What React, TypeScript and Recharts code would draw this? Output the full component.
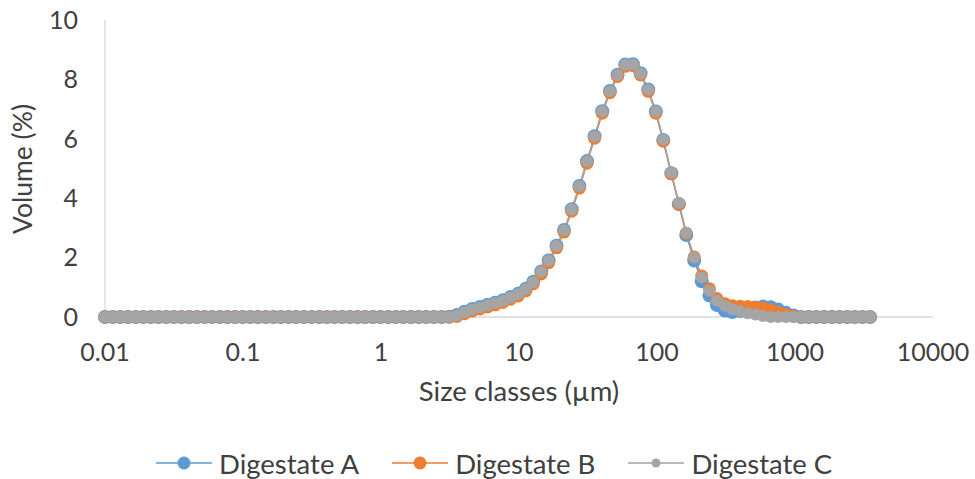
import { LineChart, Line, XAxis, YAxis } from "recharts";

// size classes (µm), laser diffraction bins
const sizes = [
  0.01, 0.0114, 0.0129, 0.0147, 0.0167, 0.0189, 0.0215, 0.0244, 0.0278, 0.0315,
  0.0358, 0.0407, 0.0463, 0.0526, 0.0597, 0.0679, 0.0771, 0.0876, 0.0995, 0.113,
  0.128, 0.146, 0.166, 0.188, 0.214, 0.243, 0.276, 0.314, 0.357, 0.405,
  0.46, 0.523, 0.594, 0.675, 0.767, 0.872, 0.991, 1.13, 1.28, 1.45,
  1.65, 1.88, 2.13, 2.42, 2.75, 3.12, 3.55, 4.03, 4.58, 5.21,
  5.92, 6.72, 7.64, 8.68, 9.86, 11.2, 12.7, 14.5, 16.4, 18.7,
  21.2, 24.1, 27.4, 31.1, 35.3, 40.1, 45.6, 51.8, 58.9, 66.9,
  76, 86.4, 98.1, 111, 127, 144, 163, 186, 211, 240,
  272, 310, 352, 400, 454, 516, 586, 666, 756, 859,
  976, 1110, 1260, 1430, 1630, 1850, 2100, 2390, 2710, 3080,
  3500,
];

const digestateA = [
  0, 0, 0, 0, 0, 0, 0, 0, 0, 0,
  0, 0, 0, 0, 0, 0, 0, 0, 0, 0,
  0, 0, 0, 0, 0, 0, 0, 0, 0, 0,
  0, 0, 0, 0, 0, 0, 0, 0, 0, 0,
  0, 0, 0, 0, 0, 0.01, 0.07, 0.18, 0.27, 0.34,
  0.41, 0.48, 0.56, 0.67, 0.78, 0.95, 1.19, 1.53, 1.9, 2.4,
  2.93, 3.63, 4.41, 5.25, 6.09, 6.93, 7.61, 8.16, 8.5, 8.51,
  8.21, 7.66, 6.92, 5.96, 4.84, 3.8, 2.76, 1.9, 1.2, 0.72,
  0.4, 0.22, 0.17, 0.2, 0.26, 0.32, 0.35, 0.33, 0.25, 0.14,
  0.05, 0, 0, 0, 0, 0, 0, 0, 0, 0,
  0,
];

const digestateB = [
  0, 0, 0, 0, 0, 0, 0, 0, 0, 0,
  0, 0, 0, 0, 0, 0, 0, 0, 0, 0,
  0, 0, 0, 0, 0, 0, 0, 0, 0, 0,
  0, 0, 0, 0, 0, 0, 0, 0, 0, 0,
  0, 0, 0, 0, 0, 0, 0.02, 0.11, 0.2, 0.27,
  0.34, 0.41, 0.49, 0.6, 0.71, 0.88, 1.12, 1.45, 1.83, 2.33,
  2.86, 3.56, 4.34, 5.18, 6.02, 6.86, 7.55, 8.1, 8.44, 8.46,
  8.15, 7.6, 6.86, 5.92, 4.82, 3.8, 2.82, 2.02, 1.38, 0.95,
  0.62, 0.45, 0.38, 0.36, 0.35, 0.33, 0.3, 0.24, 0.16, 0.08,
  0.02, 0, 0, 0, 0, 0, 0, 0, 0, 0,
  0,
];

const digestateC = [
  0, 0, 0, 0, 0, 0, 0, 0, 0, 0,
  0, 0, 0, 0, 0, 0, 0, 0, 0, 0,
  0, 0, 0, 0, 0, 0, 0, 0, 0, 0,
  0, 0, 0, 0, 0, 0, 0, 0, 0, 0,
  0, 0, 0, 0, 0, 0, 0.05, 0.16, 0.25, 0.32,
  0.4, 0.47, 0.55, 0.66, 0.77, 0.94, 1.18, 1.52, 1.89, 2.39,
  2.92, 3.62, 4.4, 5.24, 6.08, 6.92, 7.6, 8.15, 8.49, 8.5,
  8.2, 7.65, 6.92, 5.97, 4.86, 3.85, 2.84, 2.0, 1.33, 0.88,
  0.55, 0.38, 0.26, 0.19, 0.13, 0.08, 0.03, 0, 0, 0,
  0, 0, 0, 0, 0, 0, 0, 0, 0, 0,
  0,
];

const xTicks = [0.01, 0.1, 1, 10, 100, 1000, 10000];
const yTicks = [0, 2, 4, 6, 8, 10];

const series = [
  { key: "a", name: "Digestate A", color: "#5B9BD5", r: 7, legendR: 6.5 },
  { key: "b", name: "Digestate B", color: "#ED7D31", r: 6.5, legendR: 6.5 },
  { key: "c", name: "Digestate C", color: "#A5A5A5", r: 6, legendR: 4.5 },
];

const data = sizes.map((s, i) => ({
  size: s,
  a: digestateA[i],
  b: digestateB[i],
  c: digestateC[i],
}));

const FONT = "Lato, 'Noto Sans', sans-serif";
const TEXT = "#404040";

export default function App() {
  return (
    <div style={{ position: "absolute", left: 0, top: 0, width: 975, height: 479, background: "#fff", fontFamily: FONT }}>
      <LineChart width={975} height={479} data={data} margin={{ top: 20, right: 42, bottom: 62, left: 0 }}>
        <XAxis
          dataKey="size"
          type="number"
          scale="log"
          domain={[0.01, 10000]}
          ticks={xTicks}
          interval={0}
          tickFormatter={(v: number) => String(v)}
          height={100}
          tickSize={0}
          tickMargin={26}
          tickLine={false}
          axisLine={{ stroke: "#D9D9D9", strokeWidth: 1.3 }}
          tick={{ fill: TEXT, fontSize: 25, fontFamily: FONT }}
          label={{ value: "Size classes (µm)", position: "insideBottom", offset: 16, fill: TEXT, fontSize: 27.5, fontFamily: FONT }}
        />
        <YAxis
          type="number"
          domain={[0, 10]}
          ticks={yTicks}
          interval={0}
          width={105}
          tickSize={0}
          tickMargin={27}
          tickLine={false}
          axisLine={{ stroke: "#D9D9D9", strokeWidth: 1.3 }}
          tick={{ fill: TEXT, fontSize: 25, fontFamily: FONT }}
          label={{
            content: () => (
              <text
                x={22}
                y={169}
                transform="rotate(-90, 22, 169)"
                textAnchor="middle"
                dominantBaseline="central"
                fill={TEXT}
                fontSize={26.5}
                fontFamily={FONT}
              >
                Volume (%)
              </text>
            ),
          }}
        />
        {series.map((s) => (
          <Line
            key={s.key}
            type="linear"
            dataKey={s.key}
            name={s.name}
            stroke={s.color}
            strokeWidth={1.5}
            dot={{ r: s.r, fill: s.color, stroke: s.color, strokeWidth: 0 }}
            activeDot={false}
            isAnimationActive={false}
          />
        ))}
      </LineChart>
      <div style={{ position: "absolute", top: 445, left: 156, display: "flex", gap: 33, color: TEXT, fontSize: 27.5 }}>
        {series.map((s) => (
          <div key={s.key} style={{ display: "flex", alignItems: "center" }}>
            <svg width={56} height={36} style={{ marginRight: 7 }}>
              <line x1={0} y1={18} x2={56} y2={18} stroke={s.color} strokeWidth={1.5} />
              <circle cx={28} cy={18} r={s.legendR} fill={s.color} />
            </svg>
            <span>{s.name}</span>
          </div>
        ))}
      </div>
    </div>
  );
}
